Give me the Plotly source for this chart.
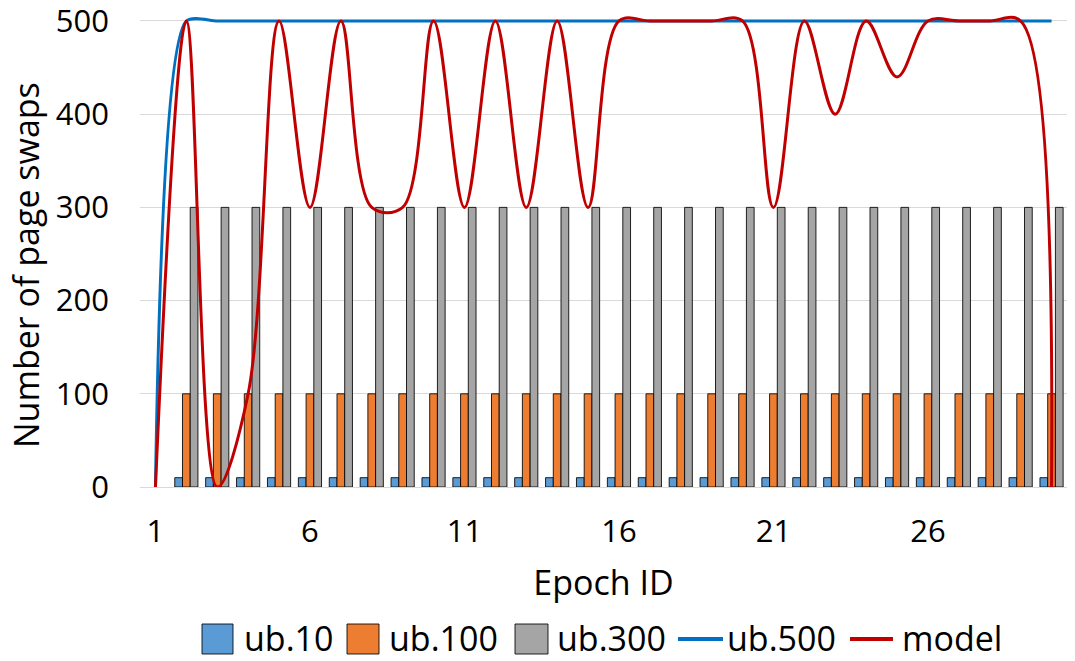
import plotly.graph_objects as go

# Epoch IDs on the category axis
epochs = list(range(1, 31))

# Upper-bound bar series (no bars drawn for the first epoch)
ub10 = [None] + [10] * 29
ub100 = [None] + [100] * 29
ub300 = [None] + [300] * 29

# Line series
ub500 = [0] + [500] * 29
model = [0, 500, 0, 100, 500, 300, 500, 300, 300, 500,
         300, 500, 300, 500, 300, 500, 500, 500, 500, 500,
         300, 500, 400, 500, 440, 500, 500, 500, 500, 0]

x_ticks = [1, 6, 11, 16, 21, 26]
y_ticks = [0, 100, 200, 300, 400, 500]

FONT = "Open Sans"
TICK_FS = 31
TITLE_FS = 34

C_UB10, C_UB100, C_UB300 = "#5B9BD5", "#ED7D31", "#A5A5A5"
C_UB500, C_MODEL = "#0070C0", "#C00000"
outline = dict(color="rgba(0,0,0,0.85)", width=1)

W, H = 1075, 661
ML, MR, MT, MB = 140, 8, 7, 174
PW, PH = W - ML - MR, H - MT - MB

fig = go.Figure()
fig.add_trace(go.Bar(x=epochs, y=ub10, name="ub.10",
                     marker=dict(color=C_UB10, line=outline)))
fig.add_trace(go.Bar(x=epochs, y=ub100, name="ub.100",
                     marker=dict(color=C_UB100, line=outline)))
fig.add_trace(go.Bar(x=epochs, y=ub300, name="ub.300",
                     marker=dict(color=C_UB300, line=outline)))
fig.add_trace(go.Scatter(x=epochs, y=ub500, name="ub.500", mode="lines",
                         line=dict(color=C_UB500, width=3, shape="spline", smoothing=0.7)))
fig.add_trace(go.Scatter(x=epochs, y=model, name="model", mode="lines",
                         line=dict(color=C_MODEL, width=3, shape="spline", smoothing=1)))


# Pixel positions -> paper coordinates
def px_x(px):
    return (px - ML) / PW


def px_y(py):
    return (H - MB - py) / PH


shapes = []
annotations = []

# Legend row below the x-axis title
legend_y = 639
swatches = [
    ("box", C_UB10, 202, 233, "ub.10", 243),
    ("box", C_UB100, 347, 379, "ub.100", 388),
    ("box", C_UB300, 515, 548, "ub.300", 556),
    ("line", C_UB500, 678, 723, "ub.500", 726),
    ("line", C_MODEL, 850, 893, "model", 901),
]
for kind, color, x0, x1, label, tx in swatches:
    if kind == "box":
        shapes.append(dict(type="rect", xref="paper", yref="paper",
                           x0=px_x(x0), x1=px_x(x1),
                           y0=px_y(legend_y + 15), y1=px_y(legend_y - 15),
                           fillcolor=color, line=dict(color="rgba(0,0,0,0.85)", width=1)))
    else:
        shapes.append(dict(type="line", xref="paper", yref="paper",
                           x0=px_x(x0), x1=px_x(x1),
                           y0=px_y(legend_y), y1=px_y(legend_y),
                           line=dict(color=color, width=4)))
    annotations.append(dict(text=label, xref="paper", yref="paper",
                            x=px_x(tx), y=px_y(legend_y - 1), xanchor="left", yanchor="middle",
                            showarrow=False, borderpad=0,
                            font=dict(family=FONT, size=TITLE_FS, color="black")))

# Vertical y-axis title
annotations.append(dict(text="Number of page swaps", textangle=-90,
                        xref="paper", yref="paper", x=px_x(26), y=px_y(265),
                        xanchor="center", yanchor="middle", showarrow=False,
                        font=dict(family=FONT, size=TITLE_FS, color="black")))

fig.update_layout(
    width=W, height=H,
    margin=dict(l=ML, r=MR, t=MT, b=MB),
    paper_bgcolor="white", plot_bgcolor="white",
    font=dict(family=FONT, size=TICK_FS, color="black"),
    barmode="group", bargap=0.25, bargroupgap=0,
    showlegend=False,
    shapes=shapes, annotations=annotations,
    xaxis=dict(range=[0.5, 30.5], tickmode="array", tickvals=x_ticks,
               ticktext=[str(v) for v in x_ticks], showgrid=False, zeroline=False,
               showline=False, ticks="", ticklabelstandoff=23, automargin=False,
               tickfont=dict(family=FONT, size=TICK_FS),
               title=dict(text="Epoch ID", standoff=21,
                          font=dict(family=FONT, size=TITLE_FS))),
    yaxis=dict(range=[0, 515], tickmode="array", tickvals=y_ticks,
               showgrid=True, gridcolor="#D9D9D9", gridwidth=1,
               zeroline=True, zerolinecolor="#D9D9D9", zerolinewidth=1,
               showline=False, ticks="", ticklabelstandoff=30, automargin=False,
               ticklabeloverflow="allow",
               tickfont=dict(family=FONT, size=TICK_FS)),
)

fig.write_html("out.html")
